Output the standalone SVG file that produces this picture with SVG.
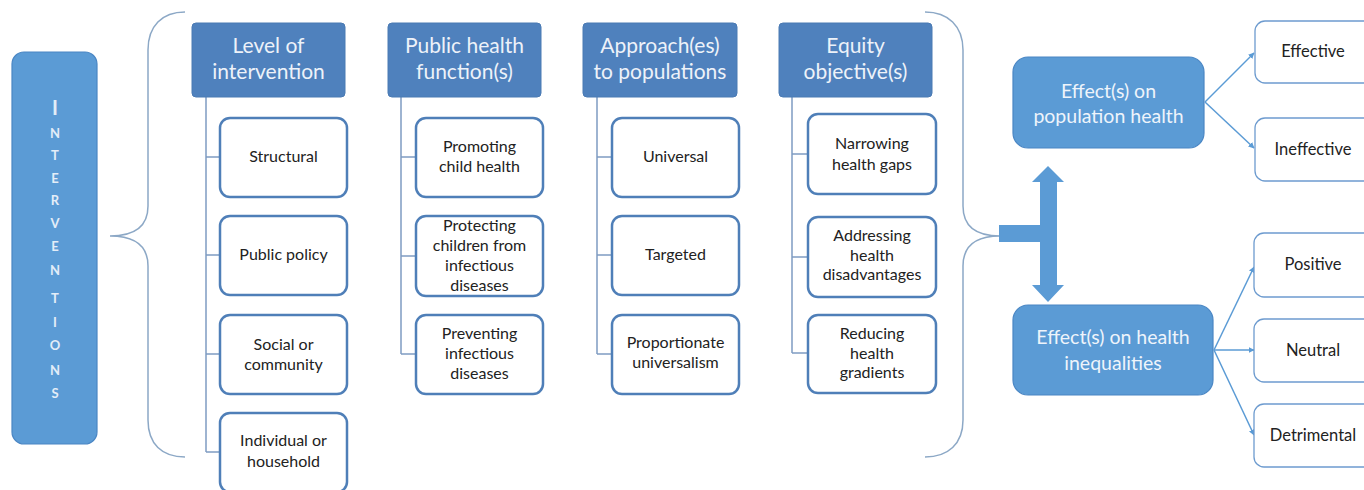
<svg xmlns="http://www.w3.org/2000/svg" width="1364" height="490" viewBox="0 0 1364 490">
<style>
.hdr{fill:#4f81bd;stroke:#4a7ab3;stroke-width:1}
.hdrt{font-family:Lato,"Open Sans",sans-serif;font-size:21px;fill:#edf2f9;text-anchor:middle}
.child{fill:#fff;stroke:#4f7fb8;stroke-width:2.5}
.ct{font-family:Lato,"Open Sans",sans-serif;font-size:16px;fill:#222;text-anchor:middle}
.eff{fill:#5b9bd5;stroke:#4a86c4;stroke-width:1.2}
.efft{font-family:Lato,"Open Sans",sans-serif;font-size:19.5px;fill:#eef4fb;text-anchor:middle}
.out{fill:#fff;stroke:#6d9bcf;stroke-width:1.3}
.ot{font-family:Lato,"Open Sans",sans-serif;font-size:16.5px;fill:#222;text-anchor:middle}
.tree{fill:none;stroke:#7f9cc2;stroke-width:1.5}
.brace{fill:none;stroke:#8ca8c6;stroke-width:1.5}
.arr{fill:none;stroke:#5b9bd5;stroke-width:1.5}
.vt{font-family:Lato,"Open Sans",sans-serif;font-size:13px;font-weight:bold;fill:#e3edf8;text-anchor:middle}
</style>
<defs>
<marker id="ah" viewBox="0 0 10 10" refX="9" refY="5" markerWidth="6" markerHeight="6" orient="auto" markerUnits="userSpaceOnUse">
<path d="M0,0 L10,5 L0,10 z" fill="#5b9bd5"/>
</marker>
</defs>

<g id="interventions">
<rect x="12" y="52" width="85" height="392" rx="12" fill="#5b9bd5" stroke="#4a86c4" stroke-width="1.2"/>
<text class="vt" x="55" y="115" style="font-size:20px">I</text>
<text class="vt" x="55" y="138">N</text>
<text class="vt" x="55" y="160">T</text>
<text class="vt" x="55" y="183">E</text>
<text class="vt" x="55" y="205">R</text>
<text class="vt" x="55" y="228">V</text>
<text class="vt" x="55" y="251">E</text>
<text class="vt" x="55" y="275">N</text>
<text class="vt" x="55" y="303">T</text>
<text class="vt" x="55" y="327">I</text>
<text class="vt" x="55" y="350">O</text>
<text class="vt" x="55" y="375">N</text>
<text class="vt" x="55" y="398">S</text>
</g>

<g id="braces">
<path class="brace" d="M185,12 C162,12 148,26 148,50 L148,206 C148,226 136,236 110,236 C136,236 148,246 148,266 L148,420 C148,444 162,457 185,457"/>
<path class="brace" d="M925,12 C948,12 963,26 963,50 L963,206 C963,226 975,236 1000,236 C975,236 963,246 963,266 L963,420 C963,444 948,457 925,457"/>
</g>

<g id="connectors">
<path class="tree" d="M206,97 V452 M206,157 H220 M206,255 H220 M206,354 H220 M206,452 H220"/>
<path class="tree" d="M401,97 V354 M401,157 H416 M401,256 H416 M401,354 H416"/>
<path class="tree" d="M597,97 V354 M597,157 H612 M597,255 H612 M597,354 H612"/>
<path class="tree" d="M792,97 V353 M792,154 H808 M792,257 H808 M792,353 H808"/>
<path class="arr" d="M1205,102 L1254,53" marker-end="url(#ah)"/>
<path class="arr" d="M1205,102 L1254,148" marker-end="url(#ah)"/>
<path class="arr" d="M1214,350 L1254,267" marker-end="url(#ah)"/>
<path class="arr" d="M1214,350 L1254,350" marker-end="url(#ah)"/>
<path class="arr" d="M1214,350 L1254,435" marker-end="url(#ah)"/>
<path d="M1048,166 L1064,182 L1057,182 L1057,285 L1064,285 L1048,302 L1032,285 L1040,285 L1040,242 L999,242 L999,225 L1040,225 L1040,182 L1032,182 z" fill="#5b9bd5"/>
</g>

<g id="h1"><rect class="hdr" x="192" y="23" width="153" height="74" rx="4"/><text class="hdrt" x="268.5" y="53">Level of</text><text class="hdrt" x="268.5" y="79">intervention</text></g>
<g id="h2"><rect class="hdr" x="388" y="23" width="153" height="74" rx="4"/><text class="hdrt" x="464.5" y="53">Public health</text><text class="hdrt" x="464.5" y="79">function(s)</text></g>
<g id="h3"><rect class="hdr" x="583" y="23" width="154" height="74" rx="4"/><text class="hdrt" x="660" y="53">Approach(es)</text><text class="hdrt" x="660" y="79">to populations</text></g>
<g id="h4"><rect class="hdr" x="779" y="23" width="153" height="74" rx="4"/><text class="hdrt" x="855.5" y="53">Equity</text><text class="hdrt" x="855.5" y="79">objective(s)</text></g>

<g id="c1a"><rect class="child" x="220" y="118" width="127" height="79" rx="10"/><text class="ct" x="283.5" y="162">Structural</text></g>
<g id="c1b"><rect class="child" x="220" y="216" width="127" height="79" rx="10"/><text class="ct" x="283.5" y="260">Public policy</text></g>
<g id="c1c"><rect class="child" x="220" y="315" width="127" height="79" rx="10"/><text class="ct" x="283.5" y="350">Social or</text><text class="ct" x="283.5" y="370">community</text></g>
<g id="c1d"><rect class="child" x="220" y="413" width="127" height="79" rx="10"/><text class="ct" x="283.5" y="446">Individual or</text><text class="ct" x="283.5" y="467">household</text></g>

<g id="c2a"><rect class="child" x="416" y="118" width="127" height="79" rx="10"/><text class="ct" x="479.5" y="152">Promoting</text><text class="ct" x="479.5" y="172">child health</text></g>
<g id="c2b"><rect class="child" x="416" y="216" width="127" height="80" rx="10"/><text class="ct" x="479.5" y="231">Protecting</text><text class="ct" x="479.5" y="251">children from</text><text class="ct" x="479.5" y="271">infectious</text><text class="ct" x="479.5" y="291">diseases</text></g>
<g id="c2c"><rect class="child" x="416" y="315" width="127" height="79" rx="10"/><text class="ct" x="479.5" y="339">Preventing</text><text class="ct" x="479.5" y="359">infectious</text><text class="ct" x="479.5" y="379">diseases</text></g>

<g id="c3a"><rect class="child" x="612" y="118" width="127" height="79" rx="10"/><text class="ct" x="675.5" y="162">Universal</text></g>
<g id="c3b"><rect class="child" x="612" y="216" width="127" height="79" rx="10"/><text class="ct" x="675.5" y="260">Targeted</text></g>
<g id="c3c"><rect class="child" x="612" y="315" width="127" height="79" rx="10"/><text class="ct" x="675.5" y="348">Proportionate</text><text class="ct" x="675.5" y="368">universalism</text></g>

<g id="c4a"><rect class="child" x="808" y="114" width="128" height="80" rx="10"/><text class="ct" x="872" y="149">Narrowing</text><text class="ct" x="872" y="170">health gaps</text></g>
<g id="c4b"><rect class="child" x="808" y="217" width="128" height="80" rx="10"/><text class="ct" x="872" y="241">Addressing</text><text class="ct" x="872" y="261">health</text><text class="ct" x="872" y="280">disadvantages</text></g>
<g id="c4c"><rect class="child" x="808" y="315" width="128" height="78" rx="10"/><text class="ct" x="872" y="339">Reducing</text><text class="ct" x="872" y="359">health</text><text class="ct" x="872" y="378">gradients</text></g>

<g id="pop"><rect class="eff" x="1013" y="57" width="191" height="91" rx="15"/><text class="efft" x="1108.5" y="98">Effect(s) on</text><text class="efft" x="1108.5" y="123">population health</text></g>
<g id="ineq"><rect class="eff" x="1013" y="305" width="200" height="90" rx="15"/><text class="efft" x="1113" y="344">Effect(s) on health</text><text class="efft" x="1113" y="370">inequalities</text></g>

<g id="o1"><rect class="out" x="1255" y="21" width="120" height="62" rx="10"/><text class="ot" x="1313" y="57">Effective</text></g>
<g id="o2"><rect class="out" x="1255" y="118" width="120" height="63" rx="10"/><text class="ot" x="1313" y="155">Ineffective</text></g>
<g id="o3"><rect class="out" x="1254" y="233" width="120" height="64" rx="10"/><text class="ot" x="1313" y="270">Positive</text></g>
<g id="o4"><rect class="out" x="1254" y="319" width="120" height="63" rx="10"/><text class="ot" x="1313" y="356">Neutral</text></g>
<g id="o5"><rect class="out" x="1254" y="404" width="120" height="63" rx="10"/><text class="ot" x="1313" y="441">Detrimental</text></g>
</svg>
